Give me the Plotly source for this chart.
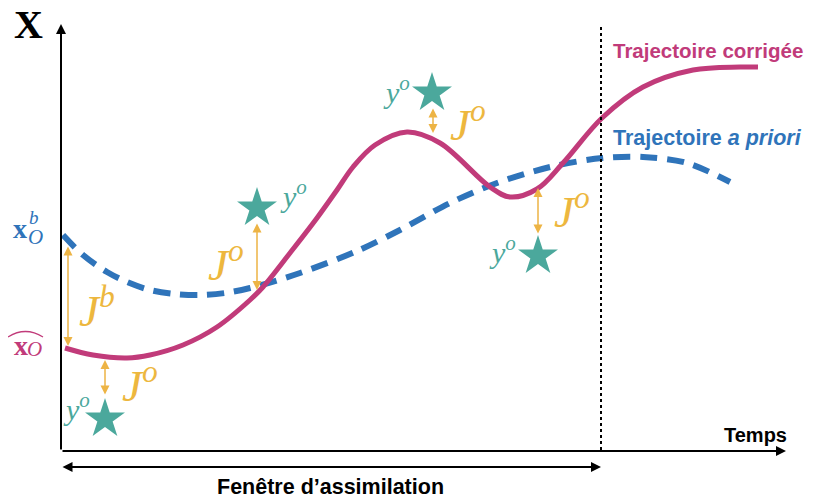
import plotly.graph_objects as go

# ---------------- data (x = time, y = state value; y measured upward) ----------------
H = 501
corr_t = [65, 93, 127, 150, 183, 217, 250, 263, 290, 317, 337, 353, 375, 407, 440, 490, 510, 537, 563, 602, 643, 693, 740, 758]
corr_v = [153, 146, 143, 146, 156, 174, 201, 214, 248, 283, 311, 334, 356, 369, 358, 314, 304, 312, 338, 383, 414, 431, 434, 434]

prior_t = [63, 83, 107, 127, 150, 175, 200, 225, 250, 300, 357, 400, 450, 497, 550, 602, 643, 687, 730]
prior_v = [266, 246, 229, 219, 211, 207, 206, 208, 213, 228, 250, 271, 298, 318, 334, 343, 344, 338, 319]

obs_t = [105, 257, 432, 538]
obs_v = [82, 293, 408, 245]

# innovation arrows (J^o): time, from, to
jo_t = [105, 257, 433, 538]
jo_from = [105, 279, 394, 266]
jo_to = [141, 211, 368, 313]
# background arrow (J^b)
jb_t = 68
jb_from = 256
jb_to = 155

window_end = 601

MAG = "#C13B7A"
BLUE = "#2F74BA"
TEAL = "#4BA89C"
YEL = "#EDB73E"
ARW = "#EDB445"
SERIF = "Liberation Serif"
SANS = "Liberation Sans"

fig = go.Figure()

fig.add_trace(go.Scatter(x=prior_t, y=prior_v, mode="lines",
                         line=dict(color=BLUE, width=6, dash="17px,10px", shape="spline", smoothing=0.9),
                         hoverinfo="skip", showlegend=False))
fig.add_trace(go.Scatter(x=corr_t, y=corr_v, mode="lines",
                         line=dict(color=MAG, width=5, shape="spline", smoothing=1.0),
                         hoverinfo="skip", showlegend=False))
fig.add_trace(go.Scatter(x=obs_t, y=obs_v, mode="markers",
                         marker=dict(symbol="star", size=30, color=TEAL, line=dict(width=0)),
                         hoverinfo="skip", showlegend=False))

ann = []

def arrow(x0, y0, x1, y1, color, width, both=False, size=1.0, head=2):
    ann.append(dict(x=x1, y=y1, ax=x0, ay=y0, xref="x", yref="y", axref="x", ayref="y",
                    text="", showarrow=True, arrowhead=head, startarrowhead=head,
                    arrowsize=size, startarrowsize=size, arrowwidth=width,
                    arrowcolor=color, arrowside="end+start" if both else "end",
                    standoff=0, startstandoff=0))

def label(x, y, text, size, color, family=SERIF, anchor="center"):
    ann.append(dict(x=x, y=y, xref="x", yref="y", text=text, showarrow=False,
                    xanchor=anchor, yanchor="middle",
                    font=dict(family=family, size=size, color=color)))

# axes
arrow(61, H - 451, 61, H - 24, "black", 2, size=1.0)
arrow(61, H - 451, 786, H - 451, "black", 2, size=1.0)
# assimilation window
arrow(61, H - 467, window_end, H - 467, "black", 2, both=True, size=1.0)

# J arrows
arrow(jb_t, jb_from, jb_t, jb_to, ARW, 1.5, both=True, size=1.2)
for t, a, b in zip(jo_t, jo_from, jo_to):
    arrow(t, a, t, b, ARW, 1.5, both=True, size=1.2)

# labels
label(28, H - 24, "<b>X</b>", 40, "black")
label(20, H - 228, "<b>x</b>", 28, BLUE)
label(34, H - 217, "<i>b</i>", 19, BLUE)
label(35, H - 237, "<i>O</i>", 21, BLUE)
label(21, H - 345, "<b>x</b>", 28, MAG)
label(34, H - 349, "<i>O</i>", 21, MAG)

jo_txt = "<i>J</i><sup><i>o</i></sup>"
label(97, H - 307, "<i>J</i><sup><i>b</i></sup>", 45, YEL)
label(140, H - 382, jo_txt, 45, YEL)
label(226, H - 261, jo_txt, 45, YEL)
label(468, H - 121, jo_txt, 45, YEL)
label(572, H - 208, jo_txt, 45, YEL)

yo_txt = "<i>y</i><sup><i>o</i></sup>"
label(76, H - 407, yo_txt, 30, TEAL)
label(293, H - 194, yo_txt, 30, TEAL)
label(396, H - 90, yo_txt, 30, TEAL)
label(502, H - 250, yo_txt, 30, TEAL)

label(611, H - 50, "<b>Trajectoire corrigée</b>", 20.5, MAG, SANS, "left")
label(611, H - 138, "<b>Trajectoire <i>a priori</i></b>", 21.5, BLUE, SANS, "left")
label(755, H - 435, "<b>Temps</b>", 20, "black", SANS)
label(330, H - 487, "<b>Fenêtre d’assimilation</b>", 21.5, "black", SANS)

shapes = [
    dict(type="line", x0=window_end, x1=window_end, y0=H - 450, y1=H - 26, xref="x", yref="y",
         line=dict(color="black", width=2, dash="dot")),
    dict(type="path", path=f"M 8 {H-337} Q 25.5 {H-326} 43 {H-337}", xref="x", yref="y",
         line=dict(color=MAG, width=1.3)),
]

# page body has an 8px margin: size the figure to fill the rest of the window
fig.update_layout(
    width=810, height=493, margin=dict(l=0, r=0, t=0, b=0),
    paper_bgcolor="white", plot_bgcolor="white",
    xaxis=dict(range=[8, 818], visible=False, fixedrange=True),
    yaxis=dict(range=[0, 493], visible=False, fixedrange=True),
    annotations=ann, shapes=shapes, showlegend=False,
)

fig.write_html("out.html")
